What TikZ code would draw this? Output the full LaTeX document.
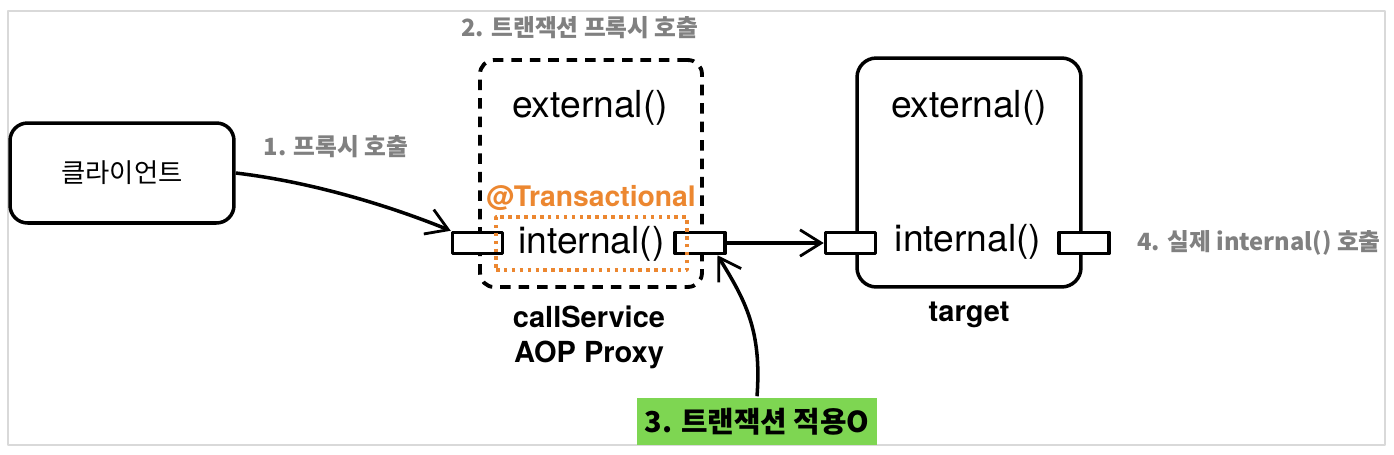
\documentclass[tikz,border=0pt]{standalone}
\usepackage{fontspec}
\setmainfont{Noto Sans CJK KR}
\newfontfamily\latinfont{TeX Gyre Heros}
\usetikzlibrary{arrows.meta}
\definecolor{labelgray}{RGB}{128,128,128}
\definecolor{txorange}{RGB}{236,135,48}
\definecolor{okgreen}{RGB}{126,214,82}
\definecolor{framegray}{RGB}{217,217,217}
\begin{document}
\begin{tikzpicture}[x=0.02cm,y=-0.02cm,line join=round,line width=2pt,
  >={Straight Barb[length=12pt,width=15pt,line width=1.6pt]},
  graylabel/.style={text=labelgray,font=\fontsize{13.5}{16}\selectfont\bfseries},
  method/.style={font=\latinfont\fontsize{21.2}{25}\selectfont},
  namelabel/.style={font=\latinfont\fontsize{16.5}{20}\selectfont\bfseries,align=center},
  clientbox/.style={draw,rounded corners=10pt,minimum width=4.48cm,minimum height=2cm,
    font=\fontsize{15}{18}\selectfont},
  proxybox/.style={draw,rounded corners=8pt,dash pattern=on 6pt off 4.5pt,line width=2.2pt,
    minimum width=4.44cm,minimum height=4.54cm},
  targetbox/.style={draw,rounded corners=11pt,minimum width=4.48cm,minimum height=4.58cm},
  port/.style={draw,fill=white,minimum width=1cm,minimum height=0.42cm,inner sep=0pt},
  txbox/.style={draw=txorange,dash pattern=on 2pt off 2.5pt,minimum width=3.82cm,minimum height=1.06cm},
  txlabel/.style={text=txorange,font=\latinfont\fontsize{16.1}{20}\selectfont\bfseries},
  greenbox/.style={fill=okgreen,minimum width=4.8cm,minimum height=0.94cm,
    font=\fontsize{16.4}{19}\selectfont\bfseries}]
\useasboundingbox (0,0) rectangle (1394,454);
\fill[white] (0,0) rectangle (1394,454);
\draw[framegray,line width=1.5pt] (8,11) rectangle (1385,445);

% client
\node[clientbox] (client) at (122,173) {클라이언트};
\node[graylabel] (step1) at (336,147) {1. 프록시 호출};

% proxy
\node[graylabel] (step2) at (580,28) {2. 트랜잭션 프록시 호출};
\node[proxybox] (proxy) at (591,173.5) {};
\node[method] (pext) at (590,108) {external()};
\node[txlabel] (txann) at (591,198) {@Transactional};
\node[port] (pL) at (477.5,243) {};
\node[port] (pR) at (700,243) {};
\node[txbox,method] (pint) at (591.5,243.5) {internal()};
\node[namelabel] (pname) at (589,337) {callService\\AOP Proxy};

% target
\node[targetbox] (target) at (969,172.5) {};
\node[method] (text) at (969,108) {external()};
\node[method] (tint) at (968,242) {internal()};
\node[port] (tL) at (850.5,243) {};
\node[port] (tR) at (1084,243) {};
\node[namelabel] (tname) at (969,315) {target};
\node[graylabel] (step4) at (1259,243) {4. 실제 internal() 호출};

\node[greenbox] (step3) at (757,421.5) {3. 트랜잭션 적용O};

% calls
\draw[->] (client.east) .. controls (320,183) and (400,210) .. (pL.north west);
\draw[->] (pR.east) -- (tL.west);
\draw[->] (step3.north) .. controls (762,330) and (745,300) .. (pR.-35);
\end{tikzpicture}
\end{document}
